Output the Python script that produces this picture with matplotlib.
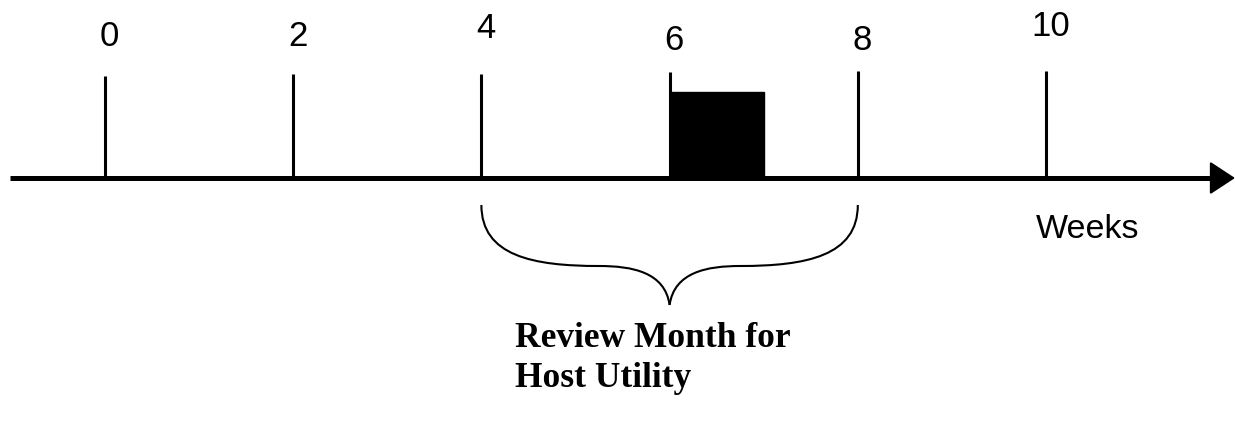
import matplotlib
matplotlib.use("Agg")
import matplotlib.pyplot as plt
from matplotlib.path import Path
from matplotlib.patches import PathPatch, Rectangle

# ---- data ----
weeks = [0, 2, 4, 6, 8, 10]
tick_labels = ["0", "2", "4", "6", "8", "10"]
event_start = 6
event_end = 7
review_start = 4
review_end = 8
axis_label = "Weeks"
review_lines = ["Review Month for", "Host Utility"]

# ---- layout (pixel-like units: 94.1 px per week) ----
px_per_week = 94.1
x0_px = 105.0
W, H = 1235, 425
axis_px = 178

def wx(px):
    return (px - x0_px) / px_per_week

tick_height = [102, 104, 104, 106, 107, 107]
label_y = [142, 142, 150, 138, 138, 152]

fig = plt.figure(figsize=(W / 100, H / 100), dpi=100)
ax = fig.add_axes([0, 0, 1, 1])
ax.set_xlim(wx(0), wx(W))
ax.set_ylim(-(H - axis_px), axis_px)
ax.axis("off")

# main axis with arrow
ax.plot([wx(10), wx(1218)], [0, 0], color="black", lw=3.6, solid_capstyle="butt")
ax.annotate("", xy=(wx(1235), 0), xytext=(wx(1200), 0),
            arrowprops=dict(arrowstyle="-|>,head_length=1.6,head_width=1.05",
                            color="black", lw=1.5, shrinkA=0, shrinkB=0))

# ticks and labels
for w, lab, th, ly in zip(weeks, tick_labels, tick_height, label_y):
    ax.plot([w, w], [0, th], color="black", lw=2.2, solid_capstyle="butt")
    ax.text(w + 0.05, ly, lab, ha="center", va="center",
            fontsize=25, family="Liberation Sans")

# event bar
ax.add_patch(Rectangle((event_start, 0), event_end - event_start, 86,
                       facecolor="black", edgecolor="black"))

# brace
mid = (review_start + review_end) / 2
half = (review_end - review_start) / 2
top, flat, tip = -27, -88, -127

def brace_half(sign):
    a = mid - sign * half
    verts = [
        (a, top),
        (a, -78),
        (a + sign * 0.55, flat),
        (a + sign * 1.25, flat),
        (mid - sign * 0.40, flat),
        (mid - sign * 0.05, -94),
        (mid, tip),
    ]
    codes = [Path.MOVETO, Path.CURVE4, Path.CURVE4, Path.CURVE4,
             Path.CURVE4, Path.CURVE4, Path.CURVE4]
    return Path(verts, codes)

for s in (1, -1):
    ax.add_patch(PathPatch(brace_half(s), facecolor="none", edgecolor="black", lw=1.5))

ax.text(wx(1088), -52, axis_label, ha="center", va="center",
        fontsize=24.5, family="Liberation Sans")

for line, base in zip(review_lines, [-169, -209]):
    ax.text(wx(515), base, line, ha="left", va="baseline",
            fontsize=25.5, family="Liberation Serif", fontweight="bold")

fig.savefig("out.png", dpi=100)
